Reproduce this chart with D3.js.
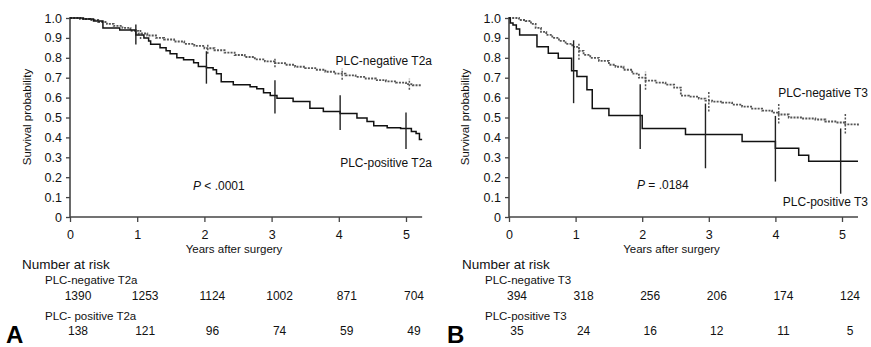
<!DOCTYPE html>
<html><head><meta charset="utf-8">
<script src="https://cdn.jsdelivr.net/npm/d3@7"></script>
<style>body{margin:0;background:#fff}svg{display:block;font-family:"Liberation Sans",Arial,sans-serif}</style>
</head><body><svg id="c" width="871" height="347"></svg>
<script>
// ---------- DATA ----------
const years = [0, 1, 2, 3, 4, 5];
const yTicks = [0, 0.1, 0.2, 0.3, 0.4, 0.5, 0.6, 0.7, 0.8, 0.9, 1.0];
const yTickLabels = ["0", "0.1", "0.2", "0.3", "0.4", "0.5", "0.6", "0.7", "0.8", "0.9", "1.0"];

// Panel A: PLC-negative T2a (dashed)
const aNegT = [0, 0.15, 0.3, 0.42, 0.55, 0.65, 0.78, 0.9, 1.02, 1.15, 1.28, 1.4, 1.55, 1.7, 1.85, 2.0, 2.15, 2.3, 2.45, 2.6, 2.75, 2.9, 3.05, 3.2, 3.35, 3.5, 3.65, 3.8, 3.95, 4.1, 4.25, 4.4, 4.55, 4.7, 4.85, 5.0, 5.1, 5.22];
const aNegS = [1.0, 0.995, 0.99, 0.98, 0.97, 0.96, 0.95, 0.935, 0.922, 0.912, 0.9, 0.892, 0.882, 0.87, 0.86, 0.848, 0.838, 0.826, 0.814, 0.804, 0.792, 0.782, 0.773, 0.765, 0.755, 0.748, 0.74, 0.73, 0.72, 0.712, 0.704, 0.696, 0.688, 0.682, 0.675, 0.668, 0.662, 0.66];
// Panel A: PLC-positive T2a (solid)
const aPosT = [0, 0.2, 0.35, 0.49, 0.74, 0.98, 1.1, 1.17, 1.2, 1.34, 1.43, 1.49, 1.59, 1.69, 1.84, 1.91, 2.03, 2.13, 2.18, 2.25, 2.43, 2.68, 2.78, 2.88, 2.98, 3.08, 3.32, 3.57, 3.77, 4.02, 4.27, 4.42, 4.52, 4.72, 4.92, 5.08, 5.15, 5.2, 5.24];
const aPosS = [1.0, 0.995, 0.985, 0.95, 0.94, 0.915, 0.9, 0.885, 0.868, 0.85, 0.835, 0.82, 0.8, 0.79, 0.775, 0.756, 0.75, 0.74, 0.72, 0.68, 0.664, 0.655, 0.645, 0.625, 0.61, 0.597, 0.58, 0.547, 0.53, 0.52, 0.497, 0.48, 0.459, 0.449, 0.445, 0.43, 0.42, 0.39, 0.39];
// Confidence bars A
const aPosCiT = [0.98, 2.03, 3.05, 4.02, 5.0];
const aPosCiLo = [0.867, 0.67, 0.52, 0.437, 0.342];
const aPosCiHi = [0.967, 0.833, 0.687, 0.612, 0.525];
const aNegCiT = [1.05, 2.05, 3.05, 4.05, 5.05];
const aNegCiLo = [0.895, 0.82, 0.752, 0.69, 0.64];
const aNegCiHi = [0.945, 0.87, 0.795, 0.745, 0.695];

// Panel B: PLC-negative T3 (dashed)
const bNegT = [0, 0.15, 0.25, 0.33, 0.4, 0.48, 0.56, 0.65, 0.75, 0.85, 0.95, 1.05, 1.12, 1.22, 1.35, 1.5, 1.6, 1.72, 1.85, 1.95, 2.05, 2.2, 2.35, 2.48, 2.58, 2.7, 2.85, 2.95, 3.05, 3.2, 3.35, 3.5, 3.65, 3.8, 3.95, 4.05, 4.2, 4.4, 4.6, 4.75, 4.9, 5.05, 5.24];
const bNegS = [1.0, 0.99, 0.985, 0.97, 0.95, 0.93, 0.915, 0.9, 0.885, 0.87, 0.855, 0.835, 0.815, 0.8, 0.785, 0.765, 0.755, 0.74, 0.72, 0.7, 0.685, 0.675, 0.665, 0.65, 0.61, 0.605, 0.595, 0.585, 0.58, 0.575, 0.565, 0.555, 0.545, 0.535, 0.525, 0.515, 0.5, 0.495, 0.49, 0.48, 0.475, 0.465, 0.455];
// Panel B: PLC-positive T3 (solid)
const bPosT = [0, 0.02, 0.06, 0.11, 0.16, 0.42, 0.59, 0.74, 0.94, 1.02, 1.17, 1.25, 1.5, 2.0, 2.65, 3.5, 4.0, 4.35, 4.5, 5.24];
const bPosS = [1.0, 0.975, 0.965, 0.945, 0.915, 0.856, 0.823, 0.798, 0.735, 0.706, 0.64, 0.545, 0.51, 0.445, 0.415, 0.38, 0.345, 0.31, 0.28, 0.28];
const bPosCiT = [0.97, 1.97, 2.95, 4.0, 4.98];
const bPosCiLo = [0.572, 0.342, 0.245, 0.178, 0.117];
const bPosCiHi = [0.888, 0.667, 0.57, 0.508, 0.445];
const bNegCiT = [1.05, 2.05, 3.0, 4.05, 5.05];
const bNegCiLo = [0.79, 0.64, 0.53, 0.47, 0.42];
const bNegCiHi = [0.87, 0.73, 0.63, 0.57, 0.52];

// Number at risk
const riskANeg = [1390, 1253, 1124, 1002, 871, 704];
const riskAPos = [138, 121, 96, 74, 59, 49];
const riskBNeg = [394, 318, 256, 206, 174, 124];
const riskBPos = [35, 24, 16, 12, 11, 5];

// ---------- DRAW ----------
const svg = d3.select("#c");

function panel(o) {
  const x = d3.scaleLinear().domain([0, 5]).range([o.x0, o.x1]);
  const y = d3.scaleLinear().domain([0, 1]).range([217, 18]);
  const g = svg.append("g");

  // y axis
  const ya = d3.axisLeft(y).tickValues(yTicks).tickFormat((d, i) => yTickLabels[i]).tickSize(4).tickPadding(4);
  const yg = g.append("g").attr("transform", `translate(${o.x0},0)`).call(ya);
  // x axis
  const xa = d3.axisBottom(x).tickValues(years).tickFormat(d3.format("d")).tickSize(5).tickPadding(8);
  const xg = g.append("g").attr("transform", "translate(0,217)").call(xa);
  [yg, xg].forEach(a => {
    a.select(".domain").attr("stroke", "#444").attr("stroke-width", 1.6);
    a.selectAll(".tick line").attr("stroke", "#444").attr("stroke-width", 1.3);
    a.selectAll("text").attr("fill", "#111").attr("font-size", 12.5).attr("font-family", "Liberation Sans, Arial, sans-serif");
  });
  yg.select(".domain").attr("d", `M0,${y(1) - 1}V${y(0)}`);
  xg.select(".domain").attr("d", `M${x(0)},0H${x(5.24)}`);

  g.append("text").attr("transform", `translate(${o.ylabX},117) rotate(-90)`)
    .attr("text-anchor", "middle").attr("font-size", 11.5).attr("fill", "#111").text("Survival probability");
  g.append("text").attr("x", (o.x0 + o.x1) / 2 - 4).attr("y", 253)
    .attr("text-anchor", "middle").attr("font-size", 11.5).attr("fill", "#111").text("Years after surgery");

  const line = d3.line().x(d => x(d[0])).y(d => y(d[1])).curve(d3.curveStepAfter);
  const negPts = o.negT.map((t, i) => [t, o.negS[i]]);
  const posPts = o.posT.map((t, i) => [t, o.posS[i]]);
  g.append("path").attr("d", line(negPts)).attr("fill", "none")
    .attr("stroke", "#555").attr("stroke-width", 1.8).attr("stroke-dasharray", "2,1.2");
  g.append("path").attr("d", line(posPts)).attr("fill", "none")
    .attr("stroke", "#111").attr("stroke-width", 1.5);

  // CI bars
  o.negCiT.forEach((t, i) => {
    g.append("line").attr("x1", x(t)).attr("x2", x(t)).attr("y1", y(o.negCiLo[i])).attr("y2", y(o.negCiHi[i]))
      .attr("stroke", "#555").attr("stroke-width", 1.5).attr("stroke-dasharray", "2,1.5");
  });
  o.posCiT.forEach((t, i) => {
    g.append("line").attr("x1", x(t)).attr("x2", x(t)).attr("y1", y(o.posCiLo[i])).attr("y2", y(o.posCiHi[i]))
      .attr("stroke", "#222").attr("stroke-width", 1.4);
  });

  // curve labels
  g.append("text").attr("x", o.labX).attr("y", o.negLabY).attr("text-anchor", "end")
    .attr("font-size", 12).attr("fill", "#111").text(o.negLab);
  g.append("text").attr("x", o.labX).attr("y", o.posLabY).attr("text-anchor", "end")
    .attr("font-size", 12).attr("fill", "#111").text(o.posLab);
  const pt = g.append("text").attr("x", o.pX).attr("y", o.pY).attr("font-size", 12).attr("fill", "#111");
  pt.append("tspan").attr("font-style", "italic").text("P");
  pt.append("tspan").text(o.pText);

  // number at risk
  g.append("text").attr("x", o.nrX).attr("y", 269).attr("font-size", 13.5).attr("fill", "#111").text("Number at risk");
  g.append("text").attr("x", o.nrX + 23).attr("y", 284).attr("font-size", 11.5).attr("fill", "#111").text(o.riskNegLab);
  g.append("text").attr("x", o.nrX + 23).attr("y", 320).attr("font-size", 11.5).attr("fill", "#111").text(o.riskPosLab);
  const rows = [[o.riskNeg, 300], [o.riskPos, 335]];
  rows.forEach(([arr, yy]) => {
    g.selectAll(null).data(arr).enter().append("text")
      .attr("x", (d, i) => x(years[i]) + 8).attr("y", yy)
      .attr("text-anchor", "middle").attr("font-size", 12).attr("fill", "#111").text(d => d);
  });
  g.append("text").attr("x", o.letterX).attr("y", 343).attr("font-size", 24).attr("font-weight", "bold")
    .attr("fill", "#000").text(o.letter);
}

panel({x0: 70, x1: 406, ylabX: 31, negT: aNegT, negS: aNegS, posT: aPosT, posS: aPosS,
  posCiT: aPosCiT, posCiLo: aPosCiLo, posCiHi: aPosCiHi, negCiT: aNegCiT, negCiLo: aNegCiLo, negCiHi: aNegCiHi,
  labX: 432, negLab: "PLC-negative T2a", negLabY: 65, posLab: "PLC-positive T2a", posLabY: 167,
  pX: 193, pY: 190, pText: " < .0001",
  nrX: 22, riskNegLab: "PLC-negative T2a", riskPosLab: "PLC- positive T2a", riskNeg: riskANeg, riskPos: riskAPos,
  letter: "A", letterX: 6});
panel({x0: 509, x1: 842, ylabX: 469, negT: bNegT, negS: bNegS, posT: bPosT, posS: bPosS,
  posCiT: bPosCiT, posCiLo: bPosCiLo, posCiHi: bPosCiHi, negCiT: bNegCiT, negCiLo: bNegCiLo, negCiHi: bNegCiHi,
  labX: 868, negLab: "PLC-negative T3", negLabY: 97, posLab: "PLC-positive T3", posLabY: 206,
  pX: 637, pY: 189, pText: " = .0184",
  nrX: 462, riskNegLab: "PLC-negative T3", riskPosLab: "PLC-positive T3", riskNeg: riskBNeg, riskPos: riskBPos,
  letter: "B", letterX: 447});
</script></body></html>
